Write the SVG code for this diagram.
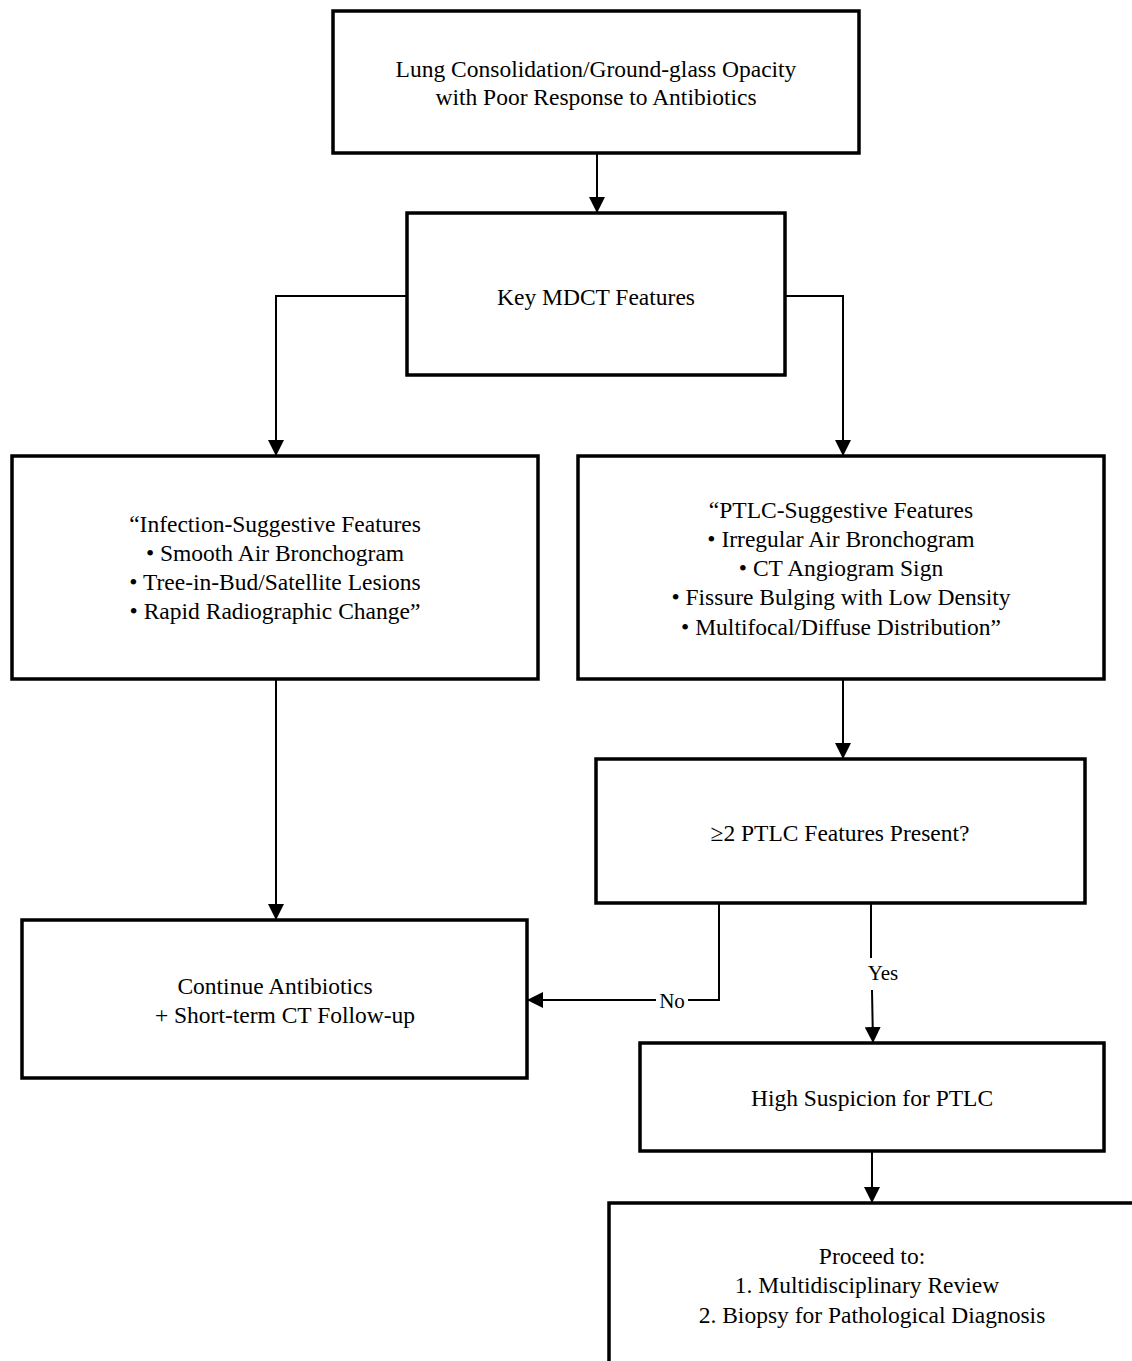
<svg xmlns="http://www.w3.org/2000/svg" width="1132" height="1361" viewBox="0 0 1132 1361">
<defs>
<style>
.box{fill:#fff;stroke:#000;stroke-width:3.5}
.t{font-family:"Liberation Serif","Times New Roman",serif;font-size:23.5px;fill:#000;text-anchor:middle}
.c{fill:none;stroke:#000;stroke-width:2}
.lbl{font-family:"Liberation Serif","Times New Roman",serif;font-size:21px;fill:#000;text-anchor:middle}
</style>
<marker id="ah" viewBox="0 0 10 10" refX="10" refY="5" markerWidth="8" markerHeight="8" markerUnits="userSpaceOnUse" orient="auto">
<path d="M0,0 L10,5 L0,10 z" fill="#000"/>
</marker>
<marker id="ah2" viewBox="0 0 10 10" refX="10" refY="5" markerWidth="16" markerHeight="16" markerUnits="userSpaceOnUse" orient="auto">
<path d="M0,0 L10,5 L0,10 z" fill="#000"/>
</marker>
</defs>
<rect width="1132" height="1361" fill="#fff"/>
<g id="connectors">
<path class="c" d="M597,153 V213" marker-end="url(#ah2)"/>
<path class="c" d="M407,296 H276 V456" marker-end="url(#ah2)"/>
<path class="c" d="M785,296 H843 V456" marker-end="url(#ah2)"/>
<path class="c" d="M276,679 V920" marker-end="url(#ah2)"/>
<path class="c" d="M843,679 V759" marker-end="url(#ah2)"/>
<path class="c" d="M719,903 V1000 H688 M656,1000 H527" marker-end="url(#ah2)"/>
<path class="c" d="M871,903 V958 M872,990 L873,1043" marker-end="url(#ah2)"/>
<path class="c" d="M872,1151 V1203" marker-end="url(#ah2)"/>
<text class="lbl" x="672" y="1008">No</text>
<text class="lbl" x="883" y="980">Yes</text>
</g>
<g id="n1">
<rect class="box" x="333" y="11" width="526" height="142"/>
<text class="t" x="596" y="77">Lung Consolidation/Ground-glass Opacity</text>
<text class="t" x="596" y="105">with Poor Response to Antibiotics</text>
</g>
<g id="n2">
<rect class="box" x="407" y="213" width="378" height="162"/>
<text class="t" x="596" y="305">Key MDCT Features</text>
</g>
<g id="n3">
<rect class="box" x="12" y="456" width="526" height="223"/>
<text class="t" x="275" y="532">“Infection-Suggestive Features</text>
<text class="t" x="275" y="561">• Smooth Air Bronchogram</text>
<text class="t" x="275" y="590">• Tree-in-Bud/Satellite Lesions</text>
<text class="t" x="275" y="619">• Rapid Radiographic Change”</text>
</g>
<g id="n4">
<rect class="box" x="578" y="456" width="526" height="223"/>
<text class="t" x="841" y="518">“PTLC-Suggestive Features</text>
<text class="t" x="841" y="547">• Irregular Air Bronchogram</text>
<text class="t" x="841" y="576">• CT Angiogram Sign</text>
<text class="t" x="841" y="605">• Fissure Bulging with Low Density</text>
<text class="t" x="841" y="635">• Multifocal/Diffuse Distribution”</text>
</g>
<g id="n5">
<rect class="box" x="596" y="759" width="489" height="144"/>
<text class="t" x="840" y="841">≥2 PTLC Features Present?</text>
</g>
<g id="n6">
<rect class="box" x="22" y="920" width="505" height="158"/>
<text class="t" x="275" y="994">Continue Antibiotics</text>
<text class="t" x="285" y="1023">+ Short-term CT Follow-up</text>
</g>
<g id="n7">
<rect class="box" x="640" y="1043" width="464" height="108"/>
<text class="t" x="872" y="1106">High Suspicion for PTLC</text>
</g>
<g id="n8">
<rect class="box" x="609" y="1203" width="540" height="200"/>
<text class="t" x="872" y="1264">Proceed to:</text>
<text class="t" x="867" y="1293">1. Multidisciplinary Review</text>
<text class="t" x="872" y="1323">2. Biopsy for Pathological Diagnosis</text>
</g>
</svg>
